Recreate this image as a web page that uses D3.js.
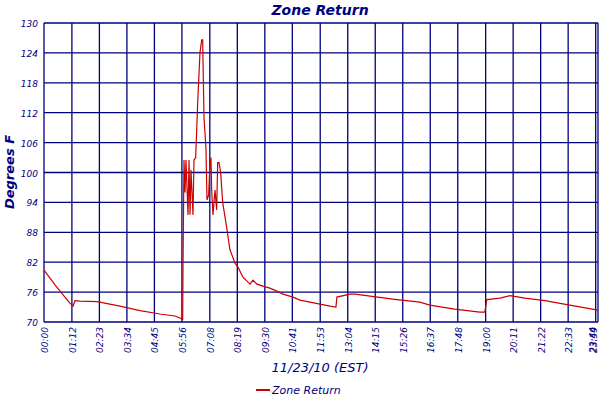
<!DOCTYPE html>
<html><head><meta charset="utf-8">
<script src="https://cdn.jsdelivr.net/npm/d3@7"></script>
<style>body{margin:0;background:#fff}text{font-family:"DejaVu Sans",sans-serif;font-style:italic;fill:#00007f}</style>
</head><body><svg width="600" height="400"></svg>
<script>
// minutes since midnight and temperature (deg F)
const minutes = [0,28,54,67,75,80,93,137,196,248,299,338,351,358,358.8,361.4,364,366.5,371.7,374.3,376.9,379.4,384.6,387.2,391.5,396.7,402.6,407,409.6,410.4,413,418,420.7,425,428.4,431,432.8,436.2,441.4,445.7,448.3,451.7,456,461.2,471.5,480,493,500.7,513.6,531.7,539.4,549.7,565,583,601,617,642.7,660.8,738,753.6,756,790,803,900,970,996,1060,1125,1138,1143,1177,1203,1241,1293,1350,1430];
const temps =   [80.4,77.5,75,73.8,73.2,74.3,74.2,74.1,73.2,72.3,71.6,71.2,70.8,70.5,81.2,102.5,96,102.5,91.5,102.5,91.5,100.5,91.5,102.5,103,114,124,126.6,126.6,122.5,111,105,94.5,95.5,102,103,96.5,91.5,96.5,92.5,102,102,100,94,89,84.5,81.8,81,79,77.6,78.4,77.6,77.2,76.8,76.2,75.6,75,74.4,73.2,73,75,75.6,75.6,74.6,74,73.4,72.6,72,72,74.5,74.8,75.3,74.8,74.3,73.5,72.4];
const tickLabels = ["00:00","01:12","02:23","03:34","04:45","05:56","07:08","08:19","09:30","10:41","11:53","13:04","14:15","15:26","16:37","17:48","19:00","20:11","21:22","22:33","23:44"];
const yTicks = [70,76,82,88,94,100,106,112,118,124,130];

const svg = d3.select("svg");
const mLeft = 44, mRight = 598, mTop = 23, mBottom = 322;
const x = d3.scaleLinear().domain([0, 1430]).range([mLeft, mRight]);
const y = d3.scaleLinear().domain([70, 130]).range([mBottom, mTop]);
const tickMin = tickLabels.map(s => { const [h, m] = s.split(":"); return +h * 60 + +m; });

svg.append("g").selectAll("line").data(yTicks).join("line")
  .attr("x1", mLeft).attr("x2", mRight).attr("y1", d => y(d)).attr("y2", d => y(d))
  .attr("stroke", "#00007f").attr("stroke-width", 1.3);
svg.append("g").selectAll("line").data(tickMin.concat([1430])).join("line")
  .attr("x1", d => x(d)).attr("x2", d => x(d)).attr("y1", mTop).attr("y2", mBottom)
  .attr("stroke", "#00007f").attr("stroke-width", 1.3);

svg.append("path").datum(minutes.map((m, i) => [m, temps[i]]))
  .attr("fill", "none").attr("stroke", "#cc0000").attr("stroke-width", 1.2)
  .attr("d", d3.line().x(d => x(d[0])).y(d => y(d[1])));

svg.append("g").selectAll("text").data(yTicks).join("text")
  .attr("x", 38).attr("y", d => y(d) + 4).attr("text-anchor", "end")
  .attr("font-size", 9).text(d => d);
svg.append("g").selectAll("text").data(tickLabels.concat(["23:59"])).join("text")
  .attr("transform", (d, i) => `translate(${i < tickMin.length - 1 ? x(tickMin[i]) + 4 : 597 + (i - tickMin.length)},327) rotate(-90)`)
  .attr("text-anchor", "end").attr("font-size", 9).text(d => d);

svg.append("text").attr("x", 320).attr("y", 15).attr("text-anchor", "middle")
  .attr("font-size", 14).attr("font-weight", "bold").text("Zone Return");
svg.append("text").attr("transform", "translate(14,172) rotate(-90)").attr("text-anchor", "middle")
  .attr("font-size", 13).attr("font-weight", "bold").text("Degrees F");
svg.append("text").attr("x", 320).attr("y", 372).attr("text-anchor", "middle")
  .attr("font-size", 13).text("11/23/10 (EST)");
svg.append("line").attr("x1", 256).attr("x2", 270).attr("y1", 390).attr("y2", 390)
  .attr("stroke", "#cc0000").attr("stroke-width", 2);
svg.append("text").attr("x", 272).attr("y", 394).attr("font-size", 11).text("Zone Return");
</script></body></html>
